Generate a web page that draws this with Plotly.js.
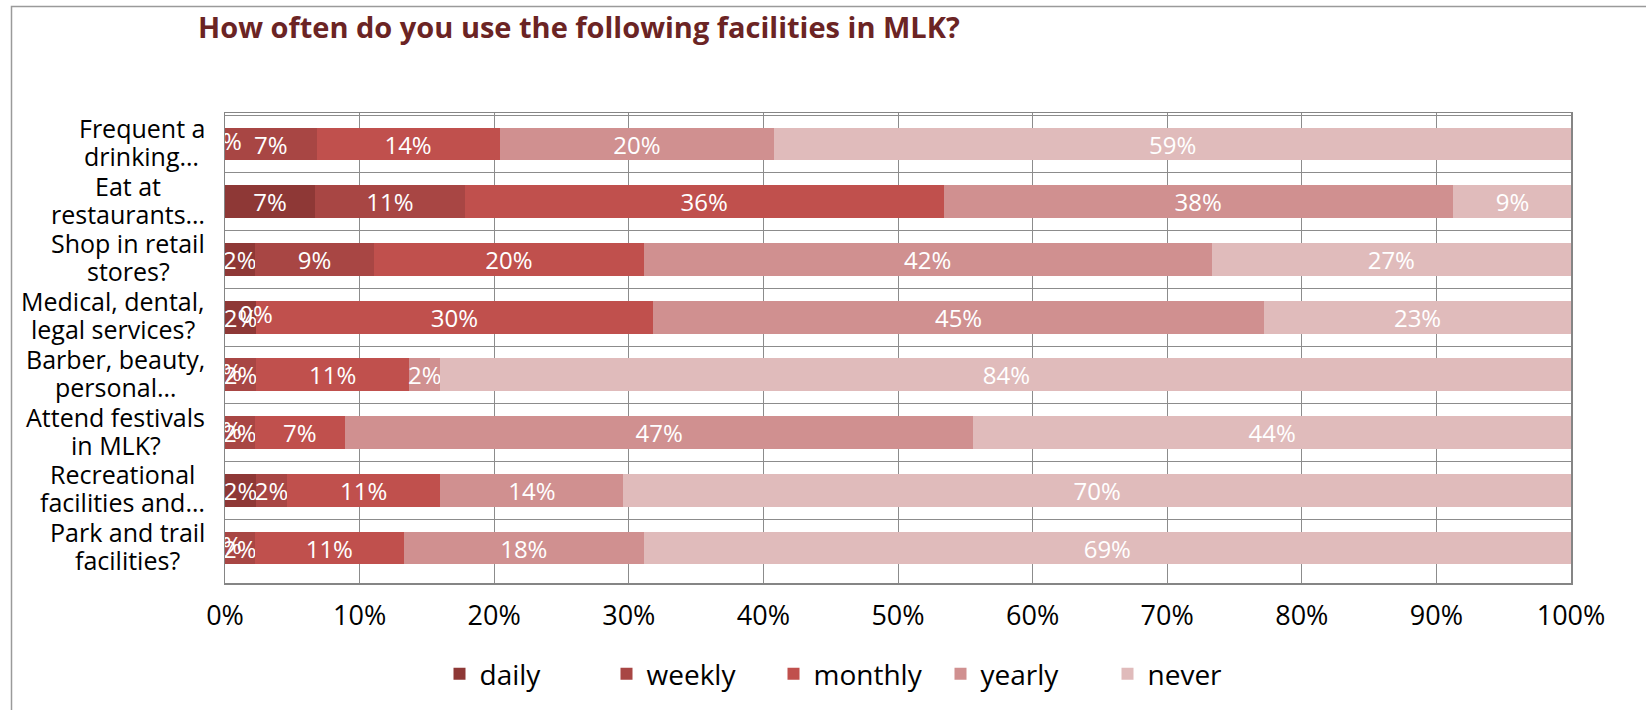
<!DOCTYPE html>
<html>
<head>
<meta charset="utf-8">
<script src="https://cdn.plot.ly/plotly-3.0.1.min.js"></script>
<style>
  html, body { margin: 0; padding: 0; background: #fff; }
  #chart { width: 1646px; height: 710px; }
</style>
</head>
<body>
<div id="chart"></div>
<script>
// survey questions, top to bottom
const categories = [
  "Frequent a<br>drinking…",
  "Eat at<br>restaurants…",
  "Shop in retail<br>stores?",
  "Medical, dental,<br>legal services?",
  "Barber, beauty,<br>personal…",
  "Attend festivals<br>in MLK?",
  "Recreational<br>facilities and…",
  "Park and trail<br>facilities?"
];

const seriesNames = ["daily", "weekly", "monthly", "yearly", "never"];
const seriesColors = ["#8e3836", "#a84644", "#c0504d", "#d09090", "#e0bbbb"];

// percent of respondents
const daily   = [0,    6.7,  2.2,  2.3,  0,    0,    2.3,  0];
const weekly  = [6.8,  11.1, 8.9,  0,    2.3,  2.2,  2.3,  2.2];
const monthly = [13.6, 35.6, 20.0, 29.5, 11.4, 6.7,  11.4, 11.1];
const yearly  = [20.4, 37.8, 42.2, 45.4, 2.3,  46.7, 13.6, 17.8];
const never   = [59.2, 8.9,  26.7, 22.8, 84.1, 44.4, 70.4, 68.9];

const xTicks = [0, 10, 20, 30, 40, 50, 60, 70, 80, 90, 100];

const allSeries = [daily, weekly, monthly, yearly, never];
const font = "'Open Sans', 'DejaVu Sans', sans-serif";
const labelSize = 25;

var data = [];
for (let s = 0; s < allSeries.length; s++) {
  data.push({
    type: "bar",
    orientation: "h",
    name: seriesNames[s],
    y: categories,
    x: allSeries[s],
    marker: { color: seriesColors[s], line: { width: 0 } },
    texttemplate: allSeries[s].map((v) => (v > 0 ? "%{x:.0f}%" : "")),
    textposition: "inside",
    insidetextanchor: "middle",
    textangle: 0,
    constraintext: "none",
    textfont: { family: font, size: 24, color: "#ffffff" },
    hoverinfo: "skip"
  });
}

// zero-width segments still get a label in the original, put them at the stack offset
let zx = [], zy = [], zt = [];
for (let i = 0; i < categories.length; i++) {
  let run = 0;
  for (let s = 0; s < allSeries.length; s++) {
    if (allSeries[s][i] === 0) {
      zx.push(run);
      zy.push(categories[i]);
      zt.push("0%");
    }
    run += allSeries[s][i];
  }
}
data.push({
  type: "scatter",
  mode: "text",
  x: zx,
  y: zy,
  text: zt,
  textposition: "middle center",
  textfont: { family: font, size: 24, color: "#ffffff" },
  cliponaxis: true,
  showlegend: false,
  hoverinfo: "skip"
});

// category labels: two lines each, centred on each other, block right-aligned
// (separate annotations so the line spacing can be tighter than plotly's default)
const ctx = document.createElement("canvas").getContext("2d");
ctx.font = labelSize + "px 'Open Sans'";
var annotations = [];
categories.forEach((c) => {
  const lines = c.split("<br>");
  const blockW = Math.max(...lines.map((l) => ctx.measureText(l).width));
  lines.forEach((l, k) => {
    annotations.push({
      xref: "paper",
      yref: "y",
      x: 0,
      y: c,
      xshift: -20 - blockW / 2,
      yshift: k === 0 ? 16 : -12,
      xanchor: "center",
      yanchor: "middle",
      showarrow: false,
      text: l,
      font: { family: font, size: labelSize, color: "#000000" }
    });
  });
});

var layout = {
  width: 1646,
  height: 710,
  margin: { l: 225, r: 75, t: 113, b: 127, autoexpand: false },
  paper_bgcolor: "#ffffff",
  plot_bgcolor: "#ffffff",
  barmode: "stack",
  bargap: 0.43,
  title: {
    text: "How often do you use the following facilities in MLK?",
    font: { family: font, size: 29, color: "#6b2424", weight: "bold" },
    xref: "container",
    yref: "container",
    x: 198 / 1646,
    xanchor: "left",
    y: 1 - 28 / 710,
    yanchor: "middle"
  },
  xaxis: {
    range: [0, 100],
    tickvals: xTicks,
    ticktext: xTicks.map((t) => t + "%"),
    showgrid: true,
    gridcolor: "#8c8c8c",
    gridwidth: 1,
    zeroline: false,
    showline: true,
    mirror: true,
    linecolor: "#858585",
    linewidth: 1.5,
    ticks: "outside",
    ticklen: 8,
    tickcolor: "rgba(0,0,0,0)",
    tickfont: { family: font, size: 27, color: "#000000" },
    fixedrange: true
  },
  yaxis: {
    type: "category",
    autorange: "reversed",
    showticklabels: false,
    tickson: "boundaries",
    ticks: "",
    showgrid: true,
    gridcolor: "#8c8c8c",
    gridwidth: 1,
    showline: true,
    mirror: true,
    linecolor: "#858585",
    linewidth: 1.5,
    fixedrange: true
  },
  legend: {
    orientation: "h",
    x: (439.5 - 225) / 1346,
    xanchor: "left",
    y: (583 - 674) / 470,
    yanchor: "middle",
    traceorder: "normal",
    entrywidth: 122,
    font: { family: font, size: 28, color: "#000000" }
  },
  annotations: annotations,
  shapes: [
    {
      // outer chart frame, only top and left edges fall inside the picture
      type: "rect",
      xref: "paper",
      yref: "paper",
      x0: (11.5 - 225) / 1346,
      x1: (1700 - 225) / 1346,
      y0: (583 - 760) / 470,
      y1: (583 - 6.5) / 470,
      line: { color: "#9a9a9a", width: 1.5 },
      fillcolor: "rgba(0,0,0,0)"
    }
  ],
  showlegend: true
};

Plotly.newPlot("chart", data, layout, { displayModeBar: false, staticPlot: true });
</script>
</body>
</html>
